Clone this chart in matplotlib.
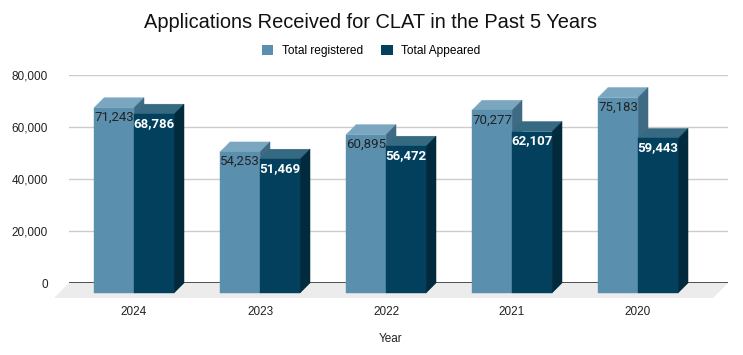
import matplotlib
matplotlib.use("Agg")
import matplotlib.pyplot as plt
from matplotlib.patches import Polygon, Patch

# data
years = ["2024", "2023", "2022", "2021", "2020"]
registered = [71243, 54253, 60895, 70277, 75183]
appeared = [68786, 51469, 56472, 62107, 59443]
series_names = ["Total registered", "Total Appeared"]

# colours: front, top, side
reg_cols = ("#5a90ae", "#7aa7bf", "#3e6a83")
app_cols = ("#02405e", "#356a82", "#012a3d")

W, H = 743, 355
fig = plt.figure(figsize=(W / 100, H / 100), dpi=100)

# axes = back plane of the 3d chart (pixel layout)
ax_l, ax_r, ax_top, ax_bot = 69, 728, 75, 283
ax = fig.add_axes([ax_l / W, (H - ax_bot) / H, (ax_r - ax_l) / W, (ax_bot - ax_top) / H])

xmin, xmax = -0.516, 4.714
ymax = 80000
ax.set_xlim(xmin, xmax)
ax.set_ylim(0, ymax)

px_x = (ax_r - ax_l) / (xmax - xmin)   # pixels per x unit
px_y = (ax_bot - ax_top) / ymax        # pixels per y unit

depth = 10        # px, bar depth
floor_depth = 15  # px
dx, dy = depth / px_x, depth / px_y
fdx, fdy = floor_depth / px_x, floor_depth / px_y
bw = 40 / px_x

for s in ax.spines.values():
    s.set_visible(False)

ax.set_yticks(range(0, ymax + 1, 20000))
ax.set_yticklabels([f"{v:,}" for v in range(0, ymax + 1, 20000)],
                   fontsize=8.5, color="#222222", family="Liberation Sans")
ax.grid(axis="y", color="#cccccc", lw=1, zorder=0)
ax.set_axisbelow(True)
ax.tick_params(axis="y", length=0, pad=15)

ax.set_xticks(range(len(years)))
ax.set_xticklabels(years, fontsize=8.5, color="#222222", family="Liberation Sans")
ax.tick_params(axis="x", length=0, pad=16.5)

ax.set_xlabel("Year", fontsize=8.5, color="#222222", family="Liberation Sans")
ax.xaxis.set_label_coords((391 - ax_l) / (ax_r - ax_l), -(333 - ax_bot) / (ax_bot - ax_top))

# floor
floor = Polygon([(xmin, 0), (xmax, 0), (xmax - fdx, -fdy), (xmin - fdx, -fdy)],
                closed=True, fc="#ececec", ec="none", clip_on=False, zorder=1)
ax.add_patch(floor)
ax.axhline(0, color="#333333", lw=1.2, zorder=2)


def bar3d(x0, v, cols, z):
    front, top, side = cols
    # front face sits shifted left/down of the back plane
    fy0, fy1 = -dy, v - dy
    pts_front = [(x0, fy0), (x0 + bw, fy0), (x0 + bw, fy1), (x0, fy1)]
    pts_top = [(x0, fy1), (x0 + bw, fy1), (x0 + bw + dx, v), (x0 + dx, v)]
    pts_side = [(x0 + bw, fy0), (x0 + bw + dx, 0), (x0 + bw + dx, v), (x0 + bw, fy1)]
    for pts, c in ((pts_top, top), (pts_side, side), (pts_front, front)):
        ax.add_patch(Polygon(pts, closed=True, fc=c, ec=c, lw=0.3, clip_on=False, zorder=z))


for i, (r, a) in enumerate(zip(registered, appeared)):
    bar3d(i - bw, r, reg_cols, 3)
    bar3d(i, a, app_cols, 4)
    ax.text(i - bw / 2, r - dy - 3 / px_y, f"{r:,}", ha="center", va="top",
            fontsize=9.5, color="#222222", family="Roboto", zorder=6)
    ax.text(i + bw / 2, a - dy - 3 / px_y, f"{a:,}", ha="center", va="top",
            fontsize=9.5, color="white", fontweight="bold", family="Roboto", zorder=6)

fig.text(371 / W, 1 - 23 / H, "Applications Received for CLAT in the Past 5 Years",
         ha="center", va="center", fontsize=14.4, color="#111111", family="Liberation Sans")

handles = [Patch(fc=reg_cols[0], ec="none"), Patch(fc=app_cols[0], ec="none")]
fig.legend(handles, series_names, loc="center", bbox_to_anchor=(371 / W, 1 - 51 / H),
           ncol=2, frameon=False, handlelength=1.0, handleheight=1.0, handletextpad=0.7,
           columnspacing=1.5, prop={"family": "Liberation Sans", "size": 8.6})

fig.savefig("out.png", dpi=100)
